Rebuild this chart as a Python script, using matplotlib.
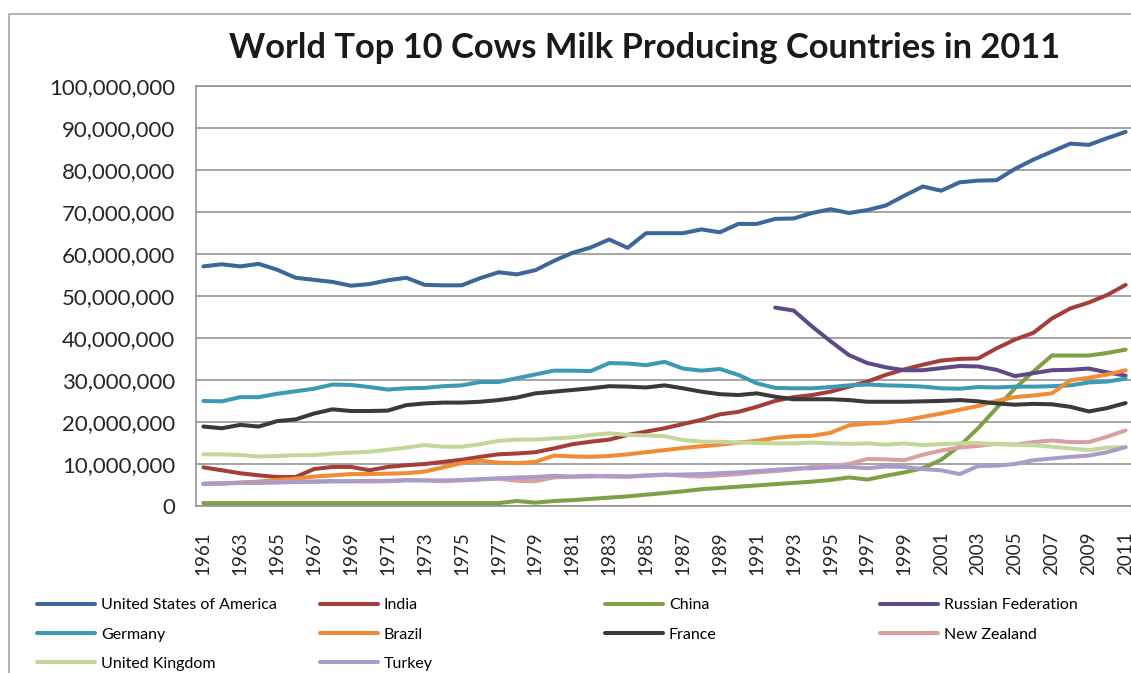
import numpy as np
import matplotlib
matplotlib.use("Agg")
from matplotlib import pyplot as plt
from matplotlib.patches import Rectangle
from matplotlib.ticker import FuncFormatter

years = list(range(1961, 2012))

usa = [57.0, 57.5, 57.0, 57.6, 56.2, 54.3, 53.8, 53.3, 52.4, 52.8,
       53.7, 54.3, 52.6, 52.5, 52.5, 54.2, 55.6, 55.1, 56.1, 58.3,
       60.2, 61.5, 63.4, 61.4, 64.9, 64.9, 64.9, 65.8, 65.1, 67.1,
       67.1, 68.3, 68.4, 69.7, 70.6, 69.7, 70.4, 71.5, 73.8, 76.0,
       75.0, 77.0, 77.4, 77.5, 80.2, 82.4, 84.3, 86.2, 85.9, 87.5, 89.0]
india = [9.2, 8.5, 7.8, 7.3, 6.9, 6.9, 8.8, 9.3, 9.3, 8.5,
         9.3, 9.7, 10.0, 10.5, 11.0, 11.7, 12.3, 12.5, 12.8, 13.7,
         14.7, 15.3, 15.8, 16.9, 17.7, 18.5, 19.5, 20.5, 21.8, 22.4,
         23.6, 25.0, 25.9, 26.4, 27.2, 28.4, 29.6, 31.2, 32.5, 33.6,
         34.6, 35.0, 35.1, 37.5, 39.6, 41.2, 44.6, 47.0, 48.4, 50.2, 52.6]
china = [0.7, 0.7, 0.7, 0.7, 0.7, 0.7, 0.7, 0.7, 0.7, 0.7,
         0.7, 0.7, 0.7, 0.7, 0.7, 0.7, 0.7, 1.2, 0.8, 1.2,
         1.4, 1.7, 2.0, 2.3, 2.7, 3.1, 3.5, 4.0, 4.3, 4.6,
         4.9, 5.2, 5.5, 5.8, 6.2, 6.8, 6.3, 7.2, 8.0, 9.0,
         11.0, 14.3, 18.5, 23.3, 28.0, 32.0, 35.8, 35.8, 35.8, 36.4, 37.2]
russia = [np.nan] * 31 + [47.2, 46.5, 42.7, 39.2, 35.9, 34.0, 33.0, 32.3, 32.3,
                          32.8, 33.3, 33.2, 32.4, 30.9, 31.6, 32.3, 32.4, 32.7, 31.8, 31.0]
germany = [25.0, 24.9, 25.9, 25.9, 26.7, 27.3, 27.9, 28.9, 28.8, 28.3,
           27.7, 28.0, 28.1, 28.5, 28.7, 29.5, 29.5, 30.4, 31.3, 32.2,
           32.2, 32.1, 34.0, 33.9, 33.5, 34.3, 32.7, 32.2, 32.6, 31.2,
           29.2, 28.1, 28.0, 28.0, 28.3, 28.7, 28.9, 28.7, 28.6, 28.4,
           28.0, 27.9, 28.3, 28.2, 28.4, 28.4, 28.5, 28.7, 29.4, 29.6, 30.3]
brazil = [5.3, 5.4, 5.6, 5.8, 6.2, 6.5, 7.0, 7.3, 7.6, 7.6,
          7.7, 7.8, 8.2, 9.2, 10.2, 10.8, 10.3, 10.2, 10.5, 12.0,
          11.8, 11.7, 11.9, 12.3, 12.8, 13.3, 13.8, 14.2, 14.6, 15.1,
          15.5, 16.2, 16.6, 16.7, 17.4, 19.2, 19.6, 19.8, 20.4, 21.2,
          22.0, 22.9, 23.8, 25.0, 25.9, 26.3, 26.8, 29.9, 30.5, 31.3, 32.3]
france = [18.9, 18.5, 19.3, 18.9, 20.2, 20.6, 22.0, 23.0, 22.6, 22.6,
          22.7, 24.0, 24.4, 24.6, 24.6, 24.8, 25.2, 25.8, 26.8, 27.2,
          27.6, 28.0, 28.5, 28.4, 28.2, 28.7, 28.0, 27.2, 26.6, 26.4,
          26.8, 26.0, 25.4, 25.4, 25.4, 25.2, 24.8, 24.8, 24.8, 24.9,
          25.0, 25.2, 24.9, 24.4, 24.1, 24.3, 24.2, 23.6, 22.5, 23.3, 24.5]
new_zealand = [5.2, 5.3, 5.5, 5.6, 5.7, 5.8, 5.8, 5.9, 5.9, 5.8,
               5.9, 6.2, 6.1, 5.9, 6.1, 6.3, 6.5, 6.0, 5.9, 6.8,
               7.0, 7.0, 7.2, 7.0, 7.3, 7.5, 7.2, 7.0, 7.3, 7.6,
               8.0, 8.3, 8.7, 9.3, 9.5, 10.0, 11.2, 11.1, 10.9, 12.2,
               13.2, 13.9, 14.3, 14.8, 14.6, 15.2, 15.6, 15.2, 15.2, 16.5, 18.0]
uk = [12.3, 12.3, 12.1, 11.8, 11.9, 12.1, 12.1, 12.5, 12.7, 12.9,
      13.4, 13.9, 14.5, 14.1, 14.1, 14.7, 15.5, 15.8, 15.8, 16.1,
      16.3, 16.9, 17.3, 16.9, 16.8, 16.6, 15.7, 15.3, 15.3, 15.1,
      15.0, 14.9, 14.9, 15.1, 14.9, 14.8, 14.9, 14.6, 14.9, 14.5,
      14.7, 14.9, 15.0, 14.7, 14.6, 14.5, 14.1, 13.7, 13.3, 13.9, 14.0]
turkey = [5.3, 5.4, 5.5, 5.5, 5.6, 5.7, 5.8, 5.9, 5.9, 6.0,
          6.0, 6.1, 6.1, 6.1, 6.2, 6.4, 6.6, 6.8, 6.9, 7.2,
          7.0, 7.2, 7.0, 7.0, 7.2, 7.4, 7.5, 7.6, 7.8, 8.0,
          8.3, 8.6, 8.9, 9.0, 9.2, 9.3, 9.0, 9.4, 9.3, 8.8,
          8.5, 7.6, 9.5, 9.6, 10.0, 10.9, 11.3, 11.7, 12.0, 12.8, 14.0]

# draw order follows the excel series order
names = ["United States of America", "India", "China", "Russian Federation",
         "Germany", "Brazil", "France", "New Zealand", "United Kingdom", "Turkey"]
series = [usa, india, china, russia, germany, brazil, france, new_zealand, uk, turkey]
colors = ["#3D679A", "#A33E3B", "#7FA047", "#5E4A86", "#3C9AB3",
          "#F08C35", "#3A3A3A", "#D9A0A0", "#C4D79B", "#A99CCB"]

fig = plt.figure(figsize=(11.31, 6.73), dpi=100)
fig.patch.set_facecolor("white")
fig.add_artist(Rectangle((0.008, -0.1), 1.2, 1.079, transform=fig.transFigure,
                         fill=False, edgecolor="#a6a6a6", lw=1.2))

ax = fig.add_axes([0.1733, 0.2481, 0.8285, 0.6247])
handles = []
for name, vals, col in zip(names, series, colors):
    h, = ax.plot(years, np.array(vals) * 1e6, color=col, lw=2.9, label=name,
                 solid_joinstyle="round", solid_capstyle="round")
    handles.append(h)

ax.set_xlim(1960.6, 2011.4)
ax.set_ylim(0, 100e6)
ax.set_yticks(np.arange(0, 100e6 + 1, 10e6))
ax.yaxis.set_major_formatter(FuncFormatter(lambda v, p: "{:,.0f}".format(v)))
ax.set_xticks(years[::2])
ax.set_xticklabels([str(y) for y in years[::2]], rotation=90)
ax.grid(axis="y", color="#8c8c8c", lw=1.1)
ax.set_axisbelow(True)
for s in ax.spines.values():
    s.set_color("#8c8c8c")
    s.set_linewidth(1.1)
ax.tick_params(axis="y", length=0, pad=15, labelsize=16, labelcolor="#262626")
ax.tick_params(axis="x", length=0, pad=18, labelsize=13.5, labelcolor="#262626")
for lab in ax.get_yticklabels() + ax.get_xticklabels():
    lab.set_fontfamily("Lato")

fig.text(0.570, 0.929, "World Top 10 Cows Milk Producing Countries in 2011",
         ha="center", va="center", fontsize=24.8, fontweight="bold",
         family="Lato", color="#1a1a1a")

# excel lays the legend out row by row, so one legend per column
col_x = [37, 320, 605, 880]
cols = [[0, 4, 8], [1, 5, 9], [2, 6], [3, 7]]
for cx, idx in zip(col_x, cols):
    fig.legend([handles[i] for i in idx], [names[i] for i in idx],
               loc="upper left", bbox_to_anchor=(cx / 1131, 1 - 598 / 673),
               frameon=False, borderpad=0, borderaxespad=0,
               handlelength=3.6, handletextpad=0.4, labelspacing=0.95,
               prop={"family": "Lato", "size": 11.5})

plt.savefig("out.png", dpi=100)
